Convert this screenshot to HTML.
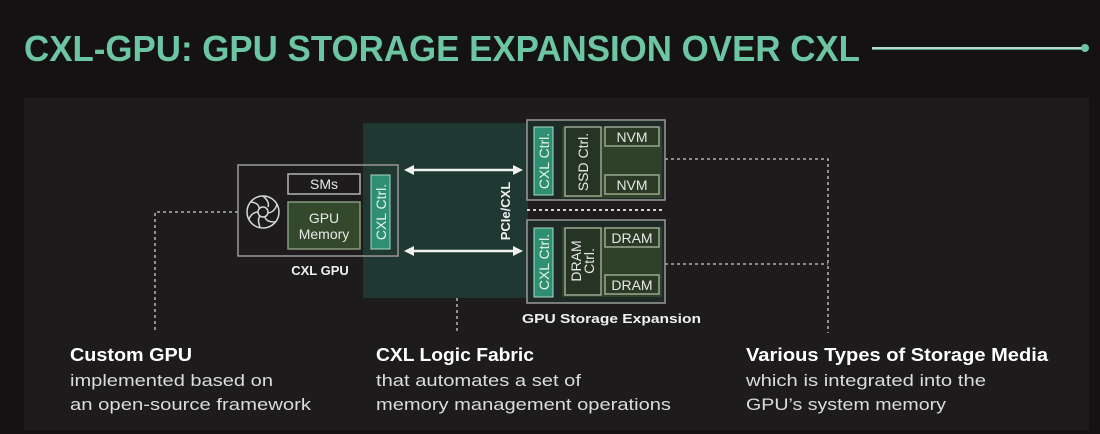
<!DOCTYPE html>
<html><head><meta charset="utf-8"><style>
html,body{margin:0;padding:0;background:#141213;}
svg{display:block}
</style></head><body>
<svg width="1100" height="434" viewBox="0 0 1100 434" xmlns="http://www.w3.org/2000/svg" font-family="Liberation Sans, sans-serif">
<rect width="1100" height="434" fill="#141213"/>
<text x="24" y="61" font-size="36" font-weight="bold" fill="#6cc5a3" textLength="836" lengthAdjust="spacingAndGlyphs">CXL-GPU: GPU STORAGE EXPANSION OVER CXL</text>
<line x1="872" y1="48" x2="1084" y2="48" stroke="#b8d8cc" stroke-width="2"/>
<line x1="872" y1="49.5" x2="1084" y2="49.5" stroke="#4f9e82" stroke-width="1"/>
<circle cx="1085" cy="48" r="4" fill="#6cc5a3"/>
<rect x="24" y="98" width="1065" height="332" fill="#1d1b1c"/>
<!-- fabric -->
<rect x="363" y="123" width="165" height="175" fill="#1f3832"/>
<!-- dotted connectors -->
<g stroke="#cfcfcf" stroke-width="1.3" stroke-dasharray="3,3" fill="none">
<polyline points="238,212 155,212 155,333"/>
<line x1="457" y1="298" x2="457" y2="333"/>
<polyline points="665,159 828,159 828,333"/>
<line x1="665" y1="264" x2="828" y2="264"/>
<line x1="527" y1="210" x2="662" y2="210" stroke-width="2"/>
</g>
<!-- GPU box -->
<rect x="238" y="165" width="160" height="91" fill="#1d1b1c" stroke="#9a9a9a" stroke-width="1.5"/>
<rect x="363" y="166" width="34" height="89" fill="#1f3832"/>
<rect x="288" y="174" width="72" height="20" fill="#1d1b1c" stroke="#b5b5b5" stroke-width="1.5"/>
<text x="324" y="189" font-size="14" fill="#e8e8e8" text-anchor="middle">SMs</text>
<rect x="288" y="202" width="72" height="47" fill="#34482c" stroke="#8a9a80" stroke-width="1.5"/>
<text x="324" y="223" font-size="14" fill="#e8e8e8" text-anchor="middle">GPU</text>
<text x="324" y="239" font-size="14" fill="#e8e8e8" text-anchor="middle">Memory</text>
<rect x="371" y="175" width="19" height="74" fill="#2f8f72" stroke="#a8d8c5" stroke-width="1"/>
<text transform="translate(386,212) rotate(-90)" font-size="14" fill="#e8f4ef" text-anchor="middle">CXL Ctrl.</text>
<g stroke="#d8d8d8" stroke-width="1.5" fill="none">
<circle cx="263" cy="212" r="16"/>
<circle cx="263" cy="212" r="5"/>
<path d="M263,196 Q270,202 268,207 M277,204 Q275,212 268,213 M275,222 Q266,222 265,217 M260,227 Q257,219 260,216 M249,219 Q252,212 258,212 M251,202 Q259,203 259,208"/>
</g>
<text x="320" y="275" font-size="13" font-weight="bold" fill="#f0f0f0" text-anchor="middle">CXL GPU</text>
<!-- arrows -->
<g stroke="#f0f0f0" stroke-width="2.5" fill="#f0f0f0">
<line x1="410" y1="170" x2="518" y2="170"/>
<line x1="410" y1="251" x2="518" y2="251"/>
</g>
<g fill="#f0f0f0">
<polygon points="404,170 414,165 414,175"/><polygon points="523,170 513,165 513,175"/>
<polygon points="404,251 414,246 414,256"/><polygon points="523,251 513,246 513,256"/>
</g>
<text transform="translate(510,211) rotate(-90)" font-size="13" font-weight="bold" fill="#f0f0f0" text-anchor="middle">PCIe/CXL</text>
<!-- storage top -->
<rect x="527" y="120" width="138" height="80" fill="#1e2a26" stroke="#9a9a9a" stroke-width="1.5"/>
<rect x="562" y="127" width="100" height="71" fill="#2f4128"/>
<rect x="534" y="127" width="19" height="68" fill="#2f8f72" stroke="#a8d8c5" stroke-width="1"/>
<text transform="translate(549,161) rotate(-90)" font-size="14" fill="#e8f4ef" text-anchor="middle">CXL Ctrl.</text>
<rect x="565" y="127" width="36" height="69" fill="#263523" stroke="#9aa890" stroke-width="1.5"/>
<text transform="translate(588,162) rotate(-90)" font-size="14" fill="#e8e8e8" text-anchor="middle">SSD Ctrl.</text>
<rect x="605" y="127" width="54" height="19" fill="#2a3a25" stroke="#9aa890" stroke-width="1.5"/>
<text x="632" y="142" font-size="14" fill="#e8e8e8" text-anchor="middle">NVM</text>
<rect x="605" y="175" width="54" height="19" fill="#2a3a25" stroke="#9aa890" stroke-width="1.5"/>
<text x="632" y="190" font-size="14" fill="#e8e8e8" text-anchor="middle">NVM</text>
<!-- storage bottom -->
<rect x="527" y="220" width="138" height="83" fill="#1e2a26" stroke="#9a9a9a" stroke-width="1.5"/>
<rect x="562" y="227" width="100" height="70" fill="#2f4128"/>
<rect x="534" y="228" width="19" height="69" fill="#2f8f72" stroke="#a8d8c5" stroke-width="1"/>
<text transform="translate(549,262) rotate(-90)" font-size="14" fill="#e8f4ef" text-anchor="middle">CXL Ctrl.</text>
<rect x="565" y="228" width="36" height="67" fill="#263523" stroke="#9aa890" stroke-width="1.5"/>
<text transform="translate(581,261) rotate(-90)" font-size="14" fill="#e8e8e8" text-anchor="middle">DRAM</text>
<text transform="translate(594,261) rotate(-90)" font-size="14" fill="#e8e8e8" text-anchor="middle">Ctrl.</text>
<rect x="605" y="228" width="54" height="19" fill="#2a3a25" stroke="#9aa890" stroke-width="1.5"/>
<text x="632" y="243" font-size="14" fill="#e8e8e8" text-anchor="middle">DRAM</text>
<rect x="605" y="275" width="54" height="19" fill="#2a3a25" stroke="#9aa890" stroke-width="1.5"/>
<text x="632" y="290" font-size="14" fill="#e8e8e8" text-anchor="middle">DRAM</text>
<text x="522" y="323" font-size="13" font-weight="bold" fill="#f0f0f0" textLength="179" lengthAdjust="spacingAndGlyphs">GPU Storage Expansion</text>
<!-- bottom texts -->
<g font-size="17" fill="#dcdcdc">
<text x="70" y="361" font-weight="bold" fill="#ffffff" font-size="18" textLength="122" lengthAdjust="spacingAndGlyphs">Custom GPU</text>
<text x="70" y="386" textLength="203" lengthAdjust="spacingAndGlyphs">implemented based on</text>
<text x="70" y="410" textLength="241" lengthAdjust="spacingAndGlyphs">an open-source framework</text>
<text x="376" y="361" font-weight="bold" fill="#ffffff" font-size="18" textLength="158" lengthAdjust="spacingAndGlyphs">CXL Logic Fabric</text>
<text x="376" y="386" textLength="205" lengthAdjust="spacingAndGlyphs">that automates a set of</text>
<text x="376" y="410" textLength="295" lengthAdjust="spacingAndGlyphs">memory management operations</text>
<text x="746" y="361" font-weight="bold" fill="#ffffff" font-size="18" textLength="302" lengthAdjust="spacingAndGlyphs">Various Types of Storage Media</text>
<text x="746" y="386" textLength="240" lengthAdjust="spacingAndGlyphs">which is integrated into the</text>
<text x="746" y="410" textLength="200" lengthAdjust="spacingAndGlyphs">GPU’s system memory</text>
</g>
</svg>
</body></html>
